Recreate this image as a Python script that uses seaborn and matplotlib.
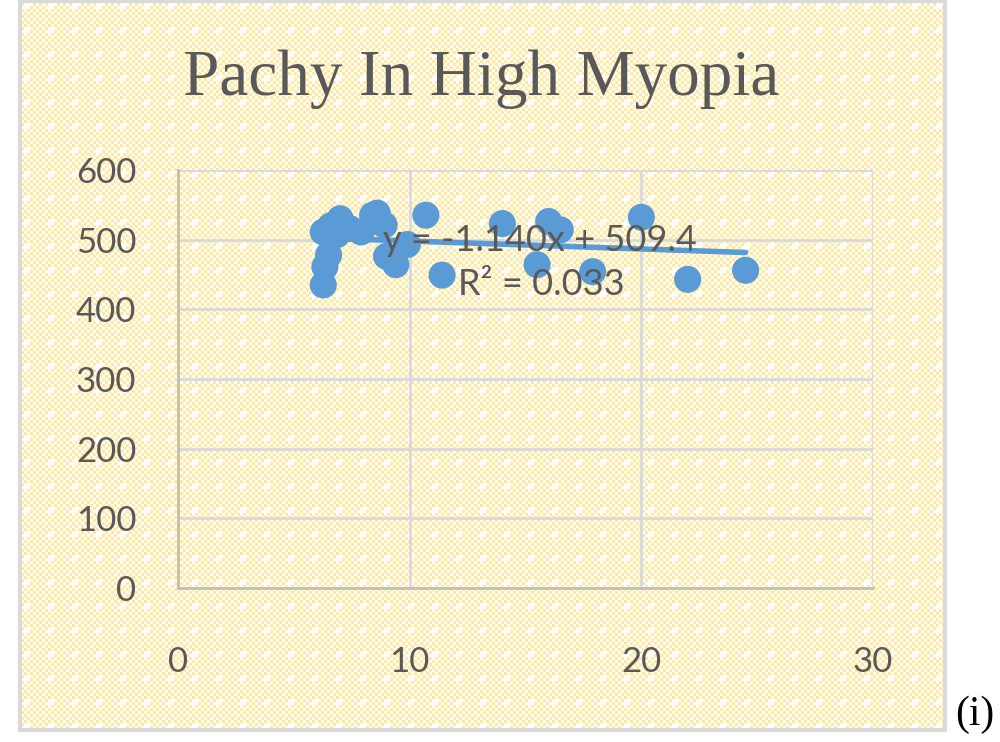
import numpy as np
import matplotlib
matplotlib.use("Agg")
import matplotlib.pyplot as plt
import seaborn as sns

# values
sphere = [6.27, 6.34, 6.5, 6.27, 6.6, 6.85, 7.0, 7.4, 7.9, 8.4, 8.6, 8.9,
          9.0, 9.4, 9.9, 10.7, 11.4, 14.0, 15.5, 16.0, 16.5, 17.9, 20.0,
          22.0, 24.5]
pachy = [435, 461, 478, 511, 520, 507, 530, 516, 511, 535, 538, 521,
         476, 464, 493, 535, 449, 523, 464, 526, 514, 454, 532,
         443, 456]
trend_slope = -1.140
trend_intercept = 509.4
r_squared = 0.033

title = "Pachy In High Myopia"
x_ticks = [0, 10, 20, 30]
y_ticks = [0, 100, 200, 300, 400, 500, 600]

sns.set_style("white")
plt.rcParams['font.family'] = ['Lato', 'DejaVu Sans']
plt.rcParams['font.serif'] = ['Liberation Serif', 'Times New Roman', 'DejaVu Serif']

blue = '#5B9BD5'
gray_text = '#595959'

fig = plt.figure(figsize=(10, 7.42), dpi=100)

# patterned chart area background (Excel style)
bg = fig.add_axes([0, 0, 1, 1], zorder=0)
H, W = 742, 1000
yy, xx = np.mgrid[0:H, 0:W]
checker = ((xx // 3 + yy // 3) % 2).astype(float)
yellow = np.array([255, 232, 162]) / 255.0
img = np.ones((H, W, 3))
img[checker == 0] = yellow
# small white crosses that break up the checker pattern
cross = ((xx % 24 < 3) & (yy % 24 < 9) & (yy % 24 >= 3)) | \
        ((yy % 24 >= 3) & (yy % 24 < 6) & (xx % 24 < 9) & (xx % 24 >= 0))
img[cross] = 1.0
inside = (xx >= 20) & (xx <= 945) & (yy <= 730)
img[~inside] = 1.0
bg.imshow(img, extent=(0, W, H, 0), interpolation='nearest', aspect='auto')
bg.plot([20, 945, 945, 20, 20], [1, 1, 730, 730, 1], color='#D9D9D9', lw=3)
bg.set_xlim(0, W)
bg.set_ylim(H, 0)
bg.axis('off')

ax = fig.add_axes([0.178, 0.2075, 0.695, 0.5635], zorder=1)
ax.set_facecolor('none')

sns.scatterplot(x=sphere, y=pachy, s=380, color=blue, edgecolor='none',
                alpha=1, ax=ax, zorder=3)

line_x = np.array([min(sphere), max(sphere)])
sns.lineplot(x=line_x, y=trend_slope * line_x + trend_intercept, color=blue,
             linewidth=4, ax=ax, zorder=4)

ax.text(15.6, 499, f"y = {trend_slope:.3f}x + {trend_intercept}", ha='center',
        va='center', fontsize=26, color=gray_text, zorder=5)
ax.text(15.7, 435, f"R² = {r_squared}", ha='center', va='center',
        fontsize=26, color=gray_text, zorder=5)

ax.set_xlim(0, 30)
ax.set_ylim(0, 600)
ax.set_xticks(x_ticks)
ax.set_yticks(y_ticks)
ax.grid(True, color='#D9D9D9', linewidth=2)
ax.set_axisbelow(True)
for side in ['top', 'right']:
    ax.spines[side].set_visible(False)
for side in ['left', 'bottom']:
    ax.spines[side].set_color('#BFBFBF')
    ax.spines[side].set_linewidth(2)
ax.tick_params(axis='both', length=0, labelsize=25, colors=gray_text)
ax.tick_params(axis='y', pad=30)
ax.tick_params(axis='x', pad=42)

fig.text(0.481, 0.893, title, ha='center', va='center', fontsize=47,
         color=gray_text, family='serif')
fig.text(0.975, 0.037, "(i)", ha='center', va='center', fontsize=30,
         color='black', family='serif')

fig.savefig('out.png', dpi=100)
